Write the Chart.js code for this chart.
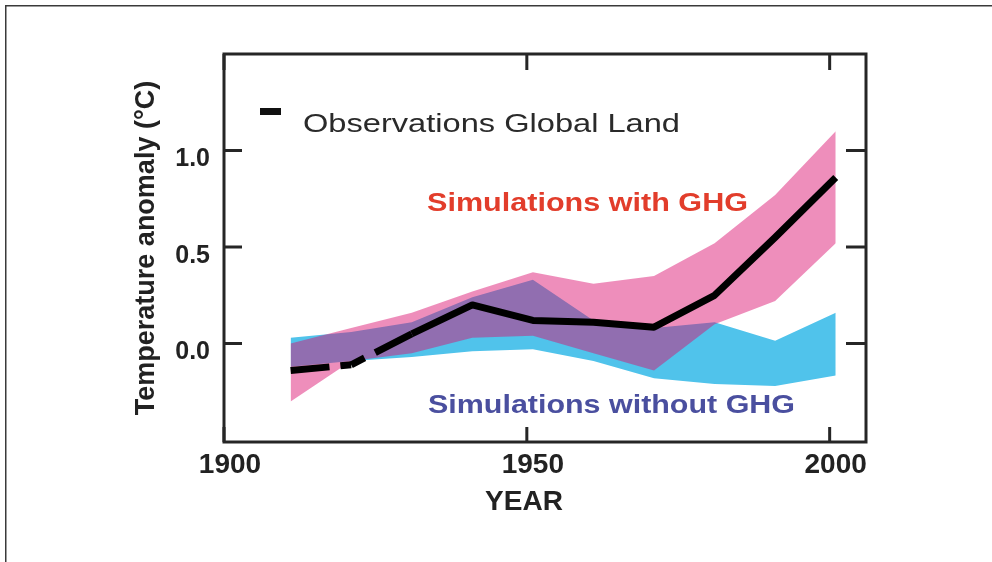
<!DOCTYPE html>
<html lang="en">
<head>
    <meta charset="UTF-8">
    <title>Temperature anomaly - Observations vs Simulations</title>
    <style>
        body {
            margin: 0;
            background: #ffffff;
        }
        #chartBox {
            width: 992px;
            height: 562px;
        }
    </style>
    <script src="https://cdn.jsdelivr.net/npm/chart.js"></script>
</head>
<body>
    <div id="chartBox">
        <canvas id="anomalyChart" width="992" height="562"></canvas>
    </div>

    <script>
        // Decade points
        const years = [1911, 1921, 1931, 1941, 1951, 1961, 1971, 1981, 1991, 2001];
        const observations = [-0.14, -0.11, 0.05, 0.20, 0.12, 0.11, 0.085, 0.25, 0.55, 0.86];
        const withGhgHigh = [0.00, 0.08, 0.16, 0.27, 0.37, 0.31, 0.35, 0.52, 0.77, 1.10];
        const withGhgLow = [-0.30, -0.09, -0.05, 0.03, 0.04, -0.05, -0.14, 0.10, 0.22, 0.52];
        const withoutGhgHigh = [0.03, 0.06, 0.11, 0.24, 0.33, 0.12, 0.08, 0.11, 0.015, 0.16];
        const withoutGhgLow = [-0.12, -0.09, -0.07, -0.04, -0.03, -0.09, -0.18, -0.21, -0.22, -0.165];

        const xTicks = [1900, 1950, 2000];
        const yTicks = [0.0, 0.5, 1.0];

        const legendLabel = 'Observations Global Land';
        const withLabel = 'Simulations with GHG';
        const withoutLabel = 'Simulations without GHG';
        const xTitle = 'YEAR';
        const yTitle = 'Temperature anomaly (\u00B0C)';

        const FONT = "'Liberation Sans', Arial, sans-serif";

        function toPoints(values) {
            return values.map((v, i) => ({ x: years[i], y: v }));
        }

        // text drawn stretched to a given width (the figure uses a wide face)
        function wideText(ctx, text, x, baseline, font, color, width) {
            ctx.save();
            ctx.font = font;
            ctx.fillStyle = color;
            ctx.textAlign = 'left';
            ctx.textBaseline = 'alphabetic';
            const w = ctx.measureText(text).width;
            ctx.translate(x, baseline);
            ctx.scale(width / w, 1);
            ctx.fillText(text, 0, 0);
            ctx.restore();
        }

        // frame, inward ticks and the text labels inside the plot
        const decorations = {
            id: 'decorations',
            beforeDraw(chart) {
                const ctx = chart.ctx;
                ctx.save();
                ctx.fillStyle = '#3a3a3a';
                ctx.fillRect(5, 5, 992, 1.5);
                ctx.fillRect(5, 5, 1.5, 562);
                ctx.restore();
            },
            afterDraw(chart) {
                const ctx = chart.ctx;
                const a = chart.chartArea;
                const xs = chart.scales.x;
                const ys = chart.scales.y;

                ctx.save();
                ctx.strokeStyle = '#262626';
                ctx.lineWidth = 3;
                ctx.strokeRect(a.left, a.top, a.right - a.left, a.bottom - a.top);

                ctx.beginPath();
                xTicks.forEach(t => {
                    const px = xs.getPixelForValue(t);
                    ctx.moveTo(px, a.bottom);
                    ctx.lineTo(px, a.bottom - 15);
                    ctx.moveTo(px, a.top);
                    ctx.lineTo(px, a.top + 16);
                });
                yTicks.forEach(t => {
                    const py = ys.getPixelForValue(t);
                    ctx.moveTo(a.left, py);
                    ctx.lineTo(a.left + 18, py);
                    ctx.moveTo(a.right, py);
                    ctx.lineTo(a.right - 20, py);
                });
                ctx.stroke();

                // legend entry
                ctx.fillStyle = '#111111';
                ctx.fillRect(260, 108, 21, 7);
                wideText(ctx, legendLabel, 303, 132, '25px ' + FONT, '#2a2a2a', 377);

                wideText(ctx, withLabel, 427, 211, 'bold 25px ' + FONT, '#e23d2b', 321);
                wideText(ctx, withoutLabel, 428, 413, 'bold 25px ' + FONT, '#4a4f9f', 367);

                ctx.font = 'bold 28px ' + FONT;
                ctx.fillStyle = '#222222';
                ctx.textAlign = 'center';
                ctx.textBaseline = 'alphabetic';
                ctx.fillText(xTitle, 524, 510);
                ctx.restore();
            }
        };

        const ctx = document.getElementById('anomalyChart').getContext('2d');
        new Chart(ctx, {
            type: 'line',
            data: {
                datasets: [
                    {
                        label: 'without GHG low',
                        data: toPoints(withoutGhgLow),
                        borderWidth: 0,
                        pointRadius: 0,
                        fill: false,
                        order: 3
                    },
                    {
                        label: 'without GHG high',
                        data: toPoints(withoutGhgHigh),
                        borderWidth: 0,
                        pointRadius: 0,
                        fill: '-1',
                        backgroundColor: '#50c3eb',
                        order: 3
                    },
                    {
                        label: 'with GHG low',
                        data: toPoints(withGhgLow),
                        borderWidth: 0,
                        pointRadius: 0,
                        fill: false,
                        order: 2
                    },
                    {
                        label: 'with GHG high',
                        data: toPoints(withGhgHigh),
                        borderWidth: 0,
                        pointRadius: 0,
                        fill: '-1',
                        backgroundColor: 'rgba(218, 14, 110, 0.47)',
                        order: 2
                    },
                    {
                        label: legendLabel,
                        data: toPoints(observations),
                        borderColor: '#000000',
                        borderWidth: 7,
                        borderCapStyle: 'butt',
                        borderJoinStyle: 'round',
                        pointRadius: 0,
                        fill: false,
                        order: 1,
                        segment: {
                            // early part of the record is dashed
                            borderDash: c => c.p0DataIndex === 0 ? [39, 11, 200, 0]
                                : (c.p0DataIndex === 1 ? [15, 12, 200, 0] : undefined)
                        }
                    }
                ]
            },
            options: {
                responsive: false,
                animation: false,
                devicePixelRatio: 1,
                layout: {
                    padding: { left: 122, top: 54, right: 126, bottom: 0 }
                },
                plugins: {
                    legend: { display: false },
                    tooltip: { enabled: false }
                },
                scales: {
                    x: {
                        type: 'linear',
                        min: 1900,
                        max: 2006,
                        afterBuildTicks: s => { s.ticks = xTicks.map(v => ({ value: v })); },
                        afterFit: s => { s.height = 120; },
                        grid: { display: false, drawTicks: false },
                        border: { display: false },
                        ticks: {
                            autoSkip: false,
                            maxRotation: 0,
                            padding: 6,
                            labelOffset: 6,
                            color: '#222222',
                            font: { family: FONT, size: 28, weight: 'bold' },
                            callback: v => String(v)
                        }
                    },
                    y: {
                        min: -0.51,
                        max: 1.5,
                        afterBuildTicks: s => { s.ticks = yTicks.map(v => ({ value: v })); },
                        afterFit: s => { s.width = 102; },
                        grid: { display: false, drawTicks: false },
                        border: { display: false },
                        ticks: {
                            padding: 14,
                            labelOffset: 9,
                            color: '#222222',
                            font: { family: FONT, size: 25, weight: 'bold' },
                            callback: v => v.toFixed(1)
                        },
                        title: {
                            display: true,
                            text: yTitle,
                            color: '#222222',
                            padding: { top: 8, bottom: 0 },
                            font: { family: FONT, size: 27, weight: 'bold' }
                        }
                    }
                }
            },
            plugins: [decorations]
        });
    </script>
</body>
</html>
